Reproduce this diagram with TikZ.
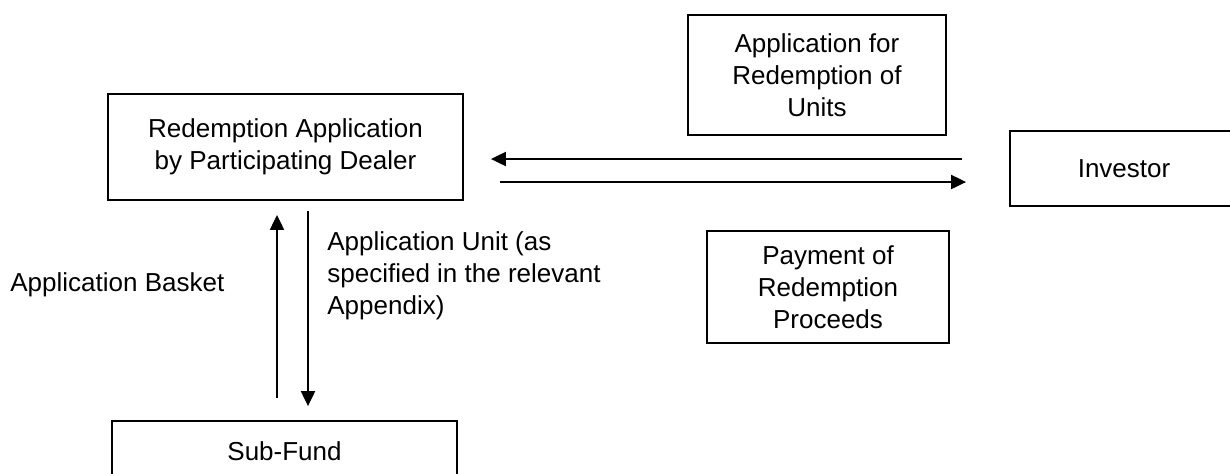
\documentclass[tikz,border=0pt]{standalone}
\usepackage{fontspec}
\setmainfont{Liberation Sans}
\usetikzlibrary{arrows.meta}
\begin{document}
\begin{tikzpicture}[x=0.5pt,y=-0.5pt,
  txt/.style={font=\fontsize{13}{16}\selectfont, inner sep=0pt},
  box/.style={txt, draw, line width=0.9pt, align=center},
  arr/.style={-{Triangle[length=7.5pt,width=7pt]}, line width=1pt}]
\useasboundingbox (0,0) rectangle (1230,473);
\node[box, minimum width=177.5pt, minimum height=53pt] (dealer) at (285.5,147) {Redemption Application\\by Participating Dealer};
\node[box, minimum width=129pt, minimum height=60pt] (appl) at (817,75) {Application for\\Redemption of\\Units};
\node[box, minimum width=114pt, minimum height=37.5pt] (inv) at (1124,168.5) {Investor};
\node[box, minimum width=121pt, minimum height=56pt] (pay) at (828,287) {Payment of\\Redemption\\Proceeds};
\node[box, minimum width=172.5pt, minimum height=30pt] (sub) at (284.5,451) {Sub-Fund};
\node[txt, anchor=west] (basket) at (10,285) {Application Basket};
\node[txt, anchor=west, align=left] (unit) at (327,276) {Application Unit (as\\specified in the relevant\\Appendix)};
\coordinate (ya) at (0,159);
\coordinate (yb) at (0,182);
\coordinate (xu) at (277,0);
\coordinate (xd) at (308,0);
\draw[arr, shorten <=23.5pt, shorten >=13.5pt] (inv.west |- ya) -- (dealer.east |- ya);
\draw[arr, shorten <=18pt, shorten >=21.5pt] (dealer.east |- yb) -- (inv.west |- yb);
\draw[arr, shorten <=11pt, shorten >=7pt] (sub.north -| xu) -- (dealer.south -| xu);
\draw[arr, shorten <=5pt, shorten >=7pt] (dealer.south -| xd) -- (sub.north -| xd);
\end{tikzpicture}
\end{document}
